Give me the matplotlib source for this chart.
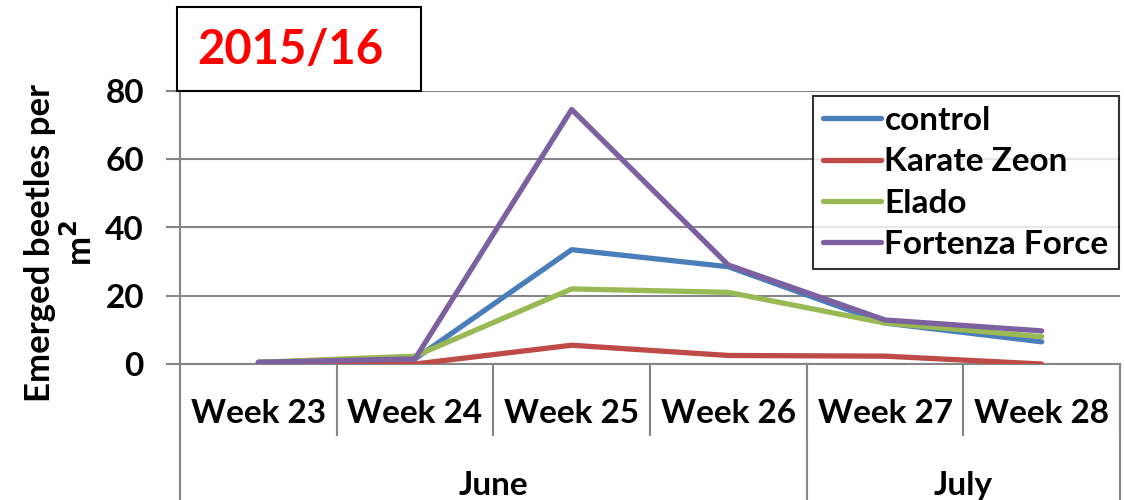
import matplotlib
matplotlib.use('Agg')
import matplotlib.pyplot as plt
from matplotlib.patches import Rectangle

plt.rcParams['font.family'] = ['Lato', 'DejaVu Sans']
plt.rcParams['font.weight'] = 'bold'

weeks = ['Week 23', 'Week 24', 'Week 25', 'Week 26', 'Week 27', 'Week 28']
months = ['June', 'July']
month_span = [4, 2]   # number of weeks in each month

control = [0.5, 1.5, 33.5, 28.5, 12.0, 6.5]
karate_zeon = [0.0, 0.0, 5.5, 2.5, 2.3, 0.0]
elado = [0.5, 2.3, 22.0, 21.0, 12.0, 8.0]
fortenza = [0.5, 1.5, 74.6, 29.0, 12.9, 9.7]

series_names = ['control', 'Karate Zeon', 'Elado', 'Fortenza Force']
series_vals = [control, karate_zeon, elado, fortenza]
colors = ['#4A7EBB', '#BE4B48', '#98B954', '#7D60A0']

grey = '#868686'
fs = 24

fig = plt.figure(figsize=(11.24, 5.0), dpi=100)
ax = fig.add_axes([180 / 1124, 136 / 500, 940 / 1124, 273 / 500])

x = list(range(len(weeks)))
for name, vals, c in zip(series_names, series_vals, colors):
    ax.plot(x, vals, color=c, lw=3.8, label=name, solid_capstyle='round', zorder=3)

ax.set_xlim(-0.5, len(weeks) - 0.5)
ax.set_ylim(0, 80)
ax.set_yticks([0, 20, 40, 60, 80])
ax.yaxis.grid(True, color=grey, lw=1.5)
ax.set_axisbelow(True)
for s in ['top', 'right']:
    ax.spines[s].set_visible(False)
ax.spines['left'].set_color(grey)
ax.spines['left'].set_linewidth(1.5)
ax.spines['bottom'].set_color(grey)
ax.spines['bottom'].set_linewidth(1.5)
ax.tick_params(axis='y', length=10, width=1.5, color=grey, labelsize=fs, pad=16)
ax.set_yticklabels(['0', '20', '40', '60', '80'], fontweight='bold')

# two-level category axis
ax.set_xticks([])
trans = ax.get_xaxis_transform()
for i, w in enumerate(weeks):
    ax.text(i, -0.18, w, transform=trans, ha='center', va='center',
            fontsize=fs, fontweight='bold')
for i in range(len(weeks) + 1):
    ax.plot([i - 0.5, i - 0.5], [0, -0.26], transform=trans, color=grey,
            lw=1.5, clip_on=False)
start = 0
for m, n in zip(months, month_span):
    ax.text(start - 0.5 + n / 2, -0.445, m, transform=trans, ha='center',
            va='center', fontsize=fs, fontweight='bold')
    ax.plot([start - 0.5, start - 0.5], [0, -0.6], transform=trans,
            color=grey, lw=1.5, clip_on=False)
    start += n
ax.plot([start - 0.5, start - 0.5], [0, -0.6], transform=trans,
        color=grey, lw=1.5, clip_on=False)

ax.set_ylabel('Emerged beetles per\nm$^\\mathbf{2}$', fontsize=25,
              fontweight='bold', linespacing=1.2)
ax.yaxis.set_label_coords(-0.087, 0.445)

leg = ax.legend(loc='upper right', bbox_to_anchor=(0.9985, 0.982), frameon=True,
                fancybox=False, edgecolor='black', fontsize=fs,
                handlelength=1.75, handletextpad=0.1, labelspacing=0.37,
                borderpad=0.3, borderaxespad=0.0)
leg.get_frame().set_linewidth(1.5)
for t in leg.get_texts():
    t.set_fontweight('bold')

# year box
fig.patches.append(Rectangle((177 / 1124, 1 - 91 / 500), 244 / 1124, 84 / 500,
                             transform=fig.transFigure, fill=False,
                             edgecolor='black', lw=1.5, zorder=5))
fig.text(290 / 1124, 1 - 50 / 500, '2015/16', color='#FF0000', fontsize=34,
         fontweight='bold', ha='center', va='center')

fig.savefig('out.png', dpi=100)
